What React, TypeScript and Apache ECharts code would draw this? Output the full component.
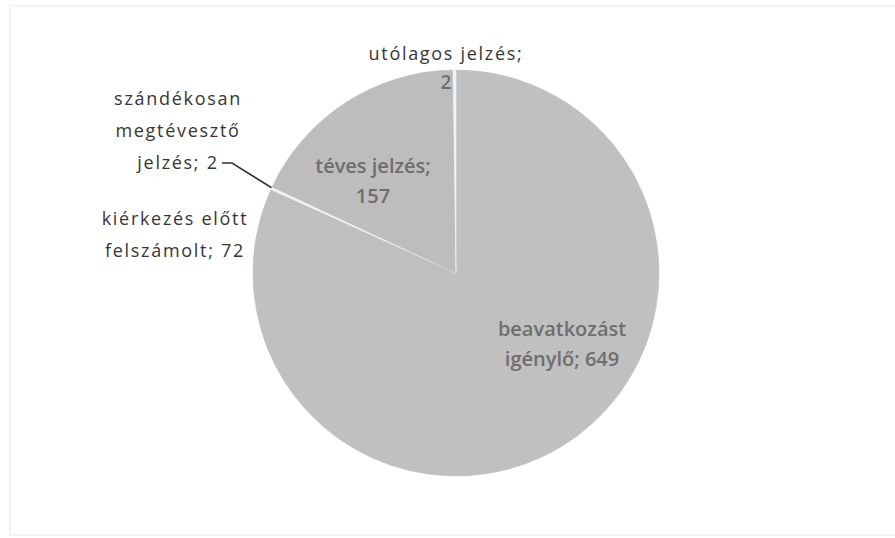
import React, { useEffect, useRef } from "react";
import * as echarts from "echarts";

// ---- data ----
const categories = [
  "beavatkozást igénylő",
  "kiérkezés előtt felszámolt",
  "szándékosan megtévesztő jelzés",
  "téves jelzés",
  "utólagos jelzés",
];
const values = [649, 72, 2, 157, 2];

// ---- styling (not data) ----
const sliceColors = ["#c0c0c0", "#bfbfbf", "#f3f3f3", "#bdbdbd", "#f3f3f3"];
const wordsPerLine = [[1, 1], [2, 1], [1, 1, 1], [2], [2]];
const valueOwnLine = [false, false, false, true, true];
const labelPos = [
  { x: 562, y: 343 },
  { x: 175, y: 234 },
  { x: 178, y: 130 },
  { x: 373, y: 180 },
  { x: 446, y: 67 },
];
const labelInside = [true, false, false, true, false];
const FONT = "'Open Sans', sans-serif";
const OUTER = "#363636";
const INNER = "#6e6e6e";

function buildLabel(idx: number, name: string, value: number): string {
  const words = name.split(" ");
  const lines: string[] = [];
  let i = 0;
  for (const n of wordsPerLine[idx]) {
    lines.push(words.slice(i, i + n).join(" "));
    i += n;
  }
  lines[lines.length - 1] += ";";
  if (valueOwnLine[idx]) lines.push(String(value));
  else lines[lines.length - 1] += " " + value;
  if (idx === 4) {
    return `{t|${lines[0]}}\n{v|${lines[1]}}`;
  }
  return lines.join("\n");
}

export default function App() {
  const ref = useRef<HTMLDivElement>(null);
  useEffect(() => {
    if (!ref.current) return;
    const chart = echarts.init(ref.current, undefined, { renderer: "svg" });
    const data = categories.map((name, idx) => ({
      name,
      value: values[idx],
      itemStyle: {
        color: sliceColors[idx],
        borderColor: sliceColors[idx],
        borderWidth: 0.6,
      },
      label: labelInside[idx]
        ? { color: INNER, fontWeight: 600, fontSize: 20, lineHeight: 30 }
        : { color: OUTER, fontWeight: 400, fontSize: 18, lineHeight: 32 },
      labelLine: { show: idx === 2 },
    }));
    chart.setOption({
      animation: false,
      backgroundColor: "#ffffff",
      graphic: [
        {
          type: "polyline",
          shape: { points: [[896, 6], [10, 6], [10, 535], [896, 535]] },
          style: { stroke: "#ebebeb", lineWidth: 1.2, fill: null },
          silent: true,
        },
      ],
      series: [
        {
          type: "pie",
          center: [456, 273],
          radius: 203,
          startAngle: 90,
          clockwise: true,
          avoidLabelOverlap: false,
          minAngle: 0,
          emphasis: { disabled: true },
          label: {
            show: true,
            fontFamily: FONT,
            align: "center",
            formatter: (p: any) => buildLabel(p.dataIndex, p.name, p.value),
            rich: {
              t: { color: OUTER, fontSize: 18, lineHeight: 29, fontFamily: FONT },
              v: { color: INNER, fontSize: 19, fontWeight: 600, lineHeight: 29, fontFamily: FONT },
            },
          },
          labelLine: {
            show: false,
            lineStyle: { color: "#333333", width: 1.5 },
          },
          labelLayout: (params: any) => {
            const idx = params.dataIndex;
            const pos = labelPos[idx];
            const res: any = {
              x: pos.x,
              y: pos.y,
              align: "center",
              verticalAlign: "middle",
            };
            if (idx === 2) {
              res.labelLinePoints = [
                [272, 188],
                [232, 163],
                [222, 163],
              ];
            }
            return res;
          },
          data,
        },
      ],
    });
    return () => chart.dispose();
  }, []);
  return (
    <>
      <style>{`text[fill="${OUTER}"], text[style*="${OUTER}"] { letter-spacing: 1.7px; }`}</style>
      <div
        ref={ref}
        style={{ position: "fixed", left: 0, top: 0, width: 895, height: 538 }}
      />
    </>
  );
}
